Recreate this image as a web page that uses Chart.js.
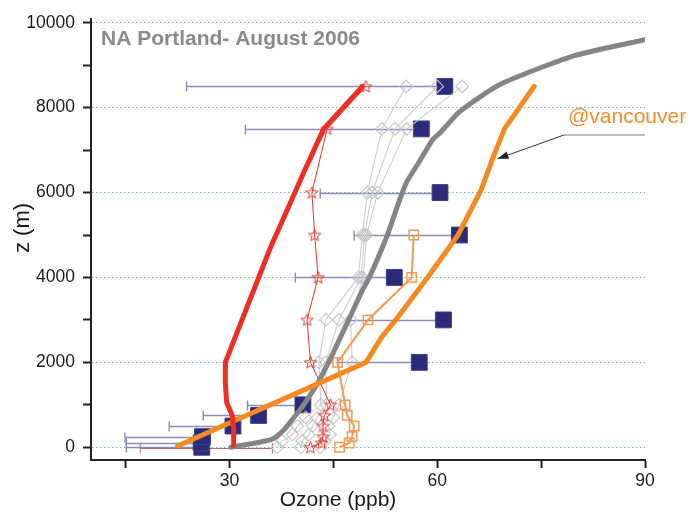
<!DOCTYPE html>
<html>
<head>
<meta charset="utf-8">
<script src="https://cdn.jsdelivr.net/npm/chart.js@4/dist/chart.umd.min.js"></script>
<style>
  html, body { margin: 0; padding: 0; background: #ffffff; }
  #wrap { width: 691px; height: 516px; }
</style>
</head>
<body>
<div id="wrap"><canvas id="c" width="691" height="516"></canvas></div>
<script>
// ---- Altitude levels (m) ----
const sondeZ   = [0, 100, 250, 500, 750, 1000, 2000, 3000, 4000, 5000, 6000, 7500, 8500];
const diamondZ = [0, 150, 300, 500, 700, 1000, 2000, 3000, 4000, 5000, 6000, 7500, 8500];
const surfZ    = [0, 100, 250, 500, 750, 1000, 2000, 3000, 4000, 5000];

// ---- Aircraft mean ozone (ppb) with lower spread ----
const aircraftO3  = [26.0, 25.9, 26.1, 30.5, 34.2, 40.6, 57.4, 60.9, 53.8, 63.2, 60.4, 57.7, 61.1];
const aircraftLow = [15.1, 15.1, 14.9, 21.3, 26.2, 32.6, 45.6, 47.2, 39.5, 48.0, 43.1, 32.3, 23.8];
// surface range at ground level
const surfaceRange = [17.1, 36.2];

// ---- Star profile ----
const starO3 = [41.7, 43.3, 43.5, 43.5, 43.7, 44.6, 41.7, 41.2, 42.8, 42.3, 41.9, 44.1, 49.7];

// ---- Open-square profile ----
const squareO3 = [45.9, 47.3, 47.7, 48.0, 47.0, 46.7, 45.6, 50.0, 56.3, 56.6];

// ---- Diamond profiles ----
const diamondA = [36.9, 37.6, 39.1, 39.8, 41.0, 43.2, 42.9, 43.9, 48.6, 49.2, 49.9, 52.0, 55.5];
const diamondB = [40.3, 40.5, 41.5, 42.0, 42.7, 44.0, 43.9, 45.8, 49.0, 49.5, 50.6, 53.9, 60.0];
const diamondC = [43.1, 43.8, 44.5, 44.3, 45.0, 45.8, 47.7, 47.5, 49.3, 49.8, 51.4, 55.6, 63.6];

// ---- Model curves ----
const redModelZ  = [50, 450, 750, 1050, 1500, 2000, 4700, 5800, 6500, 7500, 8500];
const redModelO3 = [30.6, 30.6, 30.4, 29.6, 29.4, 29.4, 35.9, 38.9, 40.8, 43.6, 49.2];

const grayModelZ  = [0, 180, 400, 700, 1000, 1500, 2100, 3000, 3700, 4000, 5000, 5800, 6250, 6700, 7260, 7420, 7900, 8550, 9220, 9600];
const grayModelO3 = [30.2, 36.0, 37.8, 39.3, 40.7, 42.7, 44.6, 47.2, 49.2, 50.2, 52.8, 54.5, 55.6, 57.3, 59.4, 60.5, 63.2, 69.1, 79.7, 90.0];

const orangeModelZ  = [30, 2000, 2600, 3000, 4000, 5000, 6050, 6800, 7500, 8500];
const orangeModelO3 = [22.5, 49.7, 52.0, 54.0, 58.6, 63.0, 66.3, 68.0, 69.7, 74.0];

// ---- Axis ticks ----
const xTickValues = [15, 30, 45, 60, 75, 90];
const xTickLabels = [30, 60, 90];
const yTickValues = [0, 1000, 2000, 3000, 4000, 5000, 6000, 7000, 8000, 9000, 10000];
const yTickLabels = [0, 2000, 4000, 6000, 8000, 10000];

const pts = (xs, zs) => xs.map((v, i) => ({ x: v, y: zs[i] }));

// five-pointed open star marker
function makeStar(r, color) {
  const size = Math.ceil(r * 2 + 4);
  const c = document.createElement('canvas');
  c.width = size; c.height = size;
  const g = c.getContext('2d');
  const cx = size / 2, cy = size / 2 + 0.5, ri = r * 0.42;
  g.beginPath();
  for (let k = 0; k < 10; k++) {
    const a = -Math.PI / 2 + k * Math.PI / 5;
    const rr = (k % 2) ? ri : r;
    g.lineTo(cx + rr * Math.cos(a), cy + rr * Math.sin(a));
  }
  g.closePath();
  g.strokeStyle = color; g.lineWidth = 1;
  g.stroke();
  return c;
}
const starMarker = makeStar(6.4, '#e8342c');

Chart.defaults.font.family = '"Liberation Sans", Arial, Helvetica, sans-serif';

// error bars drawn beneath all datasets
const errorBars = {
  id: 'errorBars',
  beforeDatasetsDraw(chart) {
    const { ctx, scales: { x, y } } = chart;
    ctx.save();
    ctx.lineWidth = 1.4;
    ctx.strokeStyle = '#8c8cba';
    sondeZ.forEach((z, i) => {
      const py = Math.round(y.getPixelForValue(z)) + 0.5;
      const x0 = x.getPixelForValue(aircraftLow[i]);
      const x1 = x.getPixelForValue(aircraftO3[i]);
      ctx.beginPath();
      ctx.moveTo(x0, py); ctx.lineTo(x1, py);
      ctx.moveTo(x0, py - 5); ctx.lineTo(x0, py + 5);
      ctx.stroke();
    });
    // surface range bar
    ctx.strokeStyle = '#b86a6a';
    ctx.lineWidth = 1;
    const py = Math.round(y.getPixelForValue(0)) + 1.5;
    const a = x.getPixelForValue(surfaceRange[0]);
    const b = x.getPixelForValue(surfaceRange[1]);
    ctx.beginPath();
    ctx.moveTo(a, py); ctx.lineTo(b, py);
    ctx.moveTo(a, py - 5); ctx.lineTo(a, py + 5);
    ctx.moveTo(b, py - 5); ctx.lineTo(b, py + 5);
    ctx.stroke();
    ctx.restore();
  }
};

// title, callout and axis titles
const labels = {
  id: 'labels',
  afterDraw(chart) {
    const { ctx, scales: { x, y } } = chart;
    ctx.save();
    ctx.textBaseline = 'alphabetic';

    ctx.font = 'bold 21px "Liberation Sans", Arial, sans-serif';
    ctx.fillStyle = '#8a8a8a';
    ctx.textAlign = 'left';
    ctx.fillText('NA Portland- August 2006', 101, 45);

    // callout pointing at the orange curve
    const tipX = x.getPixelForValue(68.7), tipY = y.getPixelForValue(6795);
    const kneeX = x.getPixelForValue(78.3), kneeY = y.getPixelForValue(7355);
    const endX = x.getPixelForValue(90);
    ctx.lineWidth = 1;
    ctx.strokeStyle = '#7a7a7a';
    ctx.beginPath(); ctx.moveTo(endX, kneeY); ctx.lineTo(kneeX, kneeY); ctx.stroke();
    ctx.strokeStyle = '#333';
    ctx.beginPath(); ctx.moveTo(kneeX, kneeY); ctx.lineTo(tipX, tipY); ctx.stroke();
    const ang = Math.atan2(tipY - kneeY, tipX - kneeX);
    const hl = 11, hw = 3.8;
    ctx.fillStyle = '#222';
    ctx.beginPath();
    ctx.moveTo(tipX, tipY);
    ctx.lineTo(tipX - hl * Math.cos(ang) + hw * Math.sin(ang), tipY - hl * Math.sin(ang) - hw * Math.cos(ang));
    ctx.lineTo(tipX - hl * Math.cos(ang) - hw * Math.sin(ang), tipY - hl * Math.sin(ang) + hw * Math.cos(ang));
    ctx.closePath(); ctx.fill();

    ctx.font = '21px "Liberation Sans", Arial, sans-serif';
    ctx.fillStyle = '#f58a2a';
    ctx.fillText('@vancouver', 568, 123);

    // axis titles
    ctx.fillStyle = '#1a1a1a';
    ctx.font = '21px "Liberation Sans", Arial, sans-serif';
    ctx.textAlign = 'center';
    ctx.fillText('Ozone (ppb)', 338, 506);
    ctx.save();
    ctx.translate(29, 228);
    ctx.rotate(-Math.PI / 2);
    ctx.font = '22px "Liberation Sans", Arial, sans-serif';
    ctx.fillText('z (m)', 0, 0);
    ctx.restore();
    ctx.restore();
  }
};

const thin = (data, color, width, extra) => Object.assign({
  data, showLine: true, borderColor: color, borderWidth: width,
  pointRadius: 0, tension: 0, fill: false
}, extra || {});

const diamondStyle = {
  pointStyle: 'rectRot', pointRadius: 6.3, pointBorderColor: '#c4c4c4',
  pointBackgroundColor: 'rgba(0,0,0,0)', pointBorderWidth: 1.1, order: 6
};

new Chart(document.getElementById('c'), {
  type: 'scatter',
  data: {
    datasets: [
      // aircraft means
      { data: pts(aircraftO3, sondeZ), showLine: false, pointStyle: 'rect', pointRadius: 11.2,
        pointBackgroundColor: '#2c2b7a', pointBorderColor: '#3d3d8e', pointBorderWidth: 1, order: 7 },
      // diamond profiles
      thin(pts(diamondA, diamondZ), '#cdcdcd', 1.1, diamondStyle),
      thin(pts(diamondB, diamondZ), '#cdcdcd', 1.1, diamondStyle),
      thin(pts(diamondC, diamondZ), '#cdcdcd', 1.1, diamondStyle),
      // open squares
      thin(pts(squareO3, surfZ), '#f39a55', 2, { pointStyle: 'rect', pointRadius: 6.6,
        pointBorderColor: '#f39a55', pointBackgroundColor: 'rgba(0,0,0,0)', pointBorderWidth: 1.5, order: 5 }),
      // stars
      thin(pts(starO3, sondeZ), '#e8342c', 1, { pointStyle: starMarker, pointRadius: 7, order: 4 }),
      // model curves
      thin(pts(grayModelO3, grayModelZ), '#858585', 5, { tension: 0.2, borderCapStyle: 'round', borderJoinStyle: 'round', order: 3 }),
      thin(pts(orangeModelO3, orangeModelZ), '#f6891f', 5, { borderCapStyle: 'round', borderJoinStyle: 'round', order: 2 }),
      thin(pts(redModelO3, redModelZ), '#ee2e24', 5, { borderCapStyle: 'round', borderJoinStyle: 'round', order: 1 })
    ]
  },
  options: {
    responsive: false,
    animation: false,
    devicePixelRatio: 1,
    layout: { padding: { left: 0, right: 46, top: 15, bottom: 0 } },
    plugins: { legend: { display: false }, tooltip: { enabled: false }, title: { display: false } },
    scales: {
      x: {
        type: 'linear', position: 'bottom', min: 10, max: 90,
        afterBuildTicks: s => { s.ticks = xTickValues.map(v => ({ value: v })); },
        afterFit: s => { s.height = 56; },
        ticks: {
          callback: v => xTickLabels.includes(v) ? String(v) : '',
          color: '#1a1a1a', font: { size: 17.5 }, padding: 3, maxRotation: 0, autoSkip: false
        },
        grid: { drawOnChartArea: false, drawTicks: true, tickLength: 8, tickWidth: 2, tickColor: '#222' },
        border: { display: true, color: '#222', width: 2 }
      },
      y: {
        type: 'linear', position: 'left', min: -300, max: 10100,
        afterBuildTicks: s => { s.ticks = yTickValues.map(v => ({ value: v })); },
        afterFit: s => { s.width = 91; },
        ticks: {
          callback: v => yTickLabels.includes(v) ? String(v) : '',
          color: '#1a1a1a', font: { size: 17.5 }, padding: 8, autoSkip: false
        },
        grid: {
          color: c => (c.tick && yTickLabels.includes(c.tick.value)) ? '#74b4b4' : 'rgba(0,0,0,0)',
          lineWidth: 1, tickLength: 8, tickWidth: 2, tickColor: '#222'
        },
        border: { display: true, color: '#222', width: 2, dash: [1.5, 2.5] }
      }
    }
  },
  plugins: [errorBars, labels]
});
</script>
</body>
</html>
